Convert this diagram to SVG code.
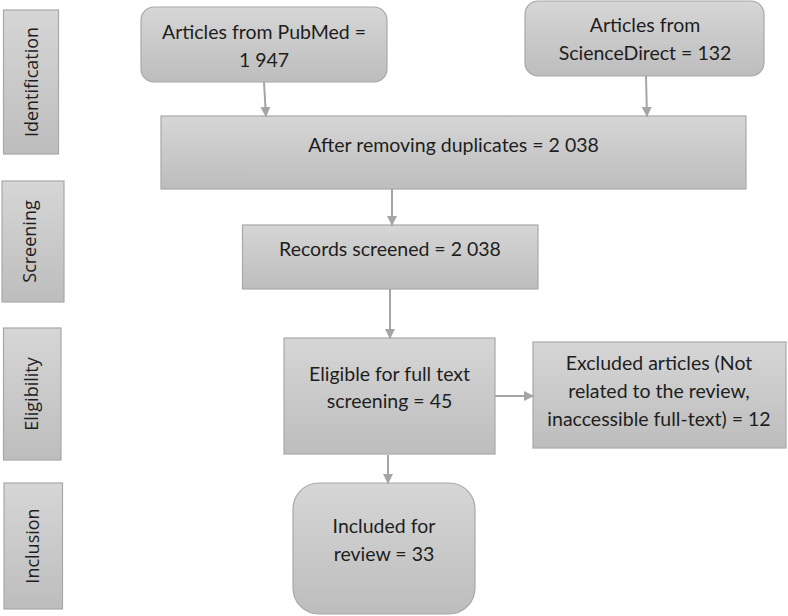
<svg xmlns="http://www.w3.org/2000/svg" width="788" height="616" viewBox="0 0 788 616">
<defs>
<linearGradient id="g" x1="0" y1="0" x2="0" y2="1">
<stop offset="0" stop-color="#d6d6d6"/>
<stop offset="1" stop-color="#bdbdbd"/>
</linearGradient>
<marker id="ah" viewBox="0 0 10 10" refX="10" refY="5" markerWidth="10" markerHeight="10" markerUnits="userSpaceOnUse" orient="auto">
<path d="M0,0 L10,5 L0,10 Z" fill="#a5a5a5"/>
</marker>
<style>
.box{fill:url(#g);stroke:#a8a8a8;stroke-width:1.2}
.t{font-family:Lato,"Liberation Sans",sans-serif;font-size:19.5px;fill:#1e1e1e;text-anchor:middle}
.s{font-family:"Open Sans","DejaVu Sans",sans-serif;font-size:18px;fill:#1e1e1e;text-anchor:middle}
.c{stroke:#a5a5a5;stroke-width:2;fill:none;marker-end:url(#ah)}
</style>
</defs>
<rect width="788" height="616" fill="#ffffff"/>
<g id="stage-identification">
<rect class="box" x="3.5" y="10" width="55" height="144"/>
<text class="s" transform="translate(38,82) rotate(-90)">Identification</text>
</g>
<g id="stage-screening">
<rect class="box" x="2" y="181" width="62" height="121"/>
<text class="s" transform="translate(36,241.5) rotate(-90)">Screening</text>
</g>
<g id="stage-eligibility">
<rect class="box" x="3.5" y="328" width="57.5" height="132"/>
<text class="s" transform="translate(38,394) rotate(-90)">Eligibility</text>
</g>
<g id="stage-inclusion">
<rect class="box" x="4" y="483" width="58.5" height="126"/>
<text class="s" transform="translate(39,546) rotate(-90)">Inclusion</text>
</g>
<g id="pubmed">
<rect class="box" x="141" y="7" width="246" height="75" rx="13"/>
<text class="t" x="264" y="39">Articles from PubMed =</text>
<text class="t" x="264" y="67">1 947</text>
</g>
<g id="sciencedirect">
<rect class="box" x="525" y="1" width="239" height="75" rx="13"/>
<text class="t" x="645" y="32">Articles from</text>
<text class="t" x="645" y="60">ScienceDirect = 132</text>
</g>
<g id="duplicates">
<rect class="box" x="161" y="116" width="585" height="73"/>
<text class="t" x="453.5" y="152">After removing duplicates = 2 038</text>
</g>
<g id="screened">
<rect class="box" x="242.5" y="225" width="295.5" height="64"/>
<text class="t" x="390" y="256">Records screened = 2 038</text>
</g>
<g id="eligible">
<rect class="box" x="284" y="338" width="211" height="116"/>
<text class="t" x="389.5" y="381">Eligible for full text</text>
<text class="t" x="389.5" y="408">screening = 45</text>
</g>
<g id="excluded">
<rect class="box" x="533" y="342" width="253" height="106"/>
<text class="t" x="659" y="370">Excluded articles (Not</text>
<text class="t" x="659" y="398">related to the review,</text>
<text class="t" x="659" y="426">inaccessible full-text) = 12</text>
</g>
<g id="included">
<rect class="box" x="293" y="483" width="182" height="131" rx="26"/>
<text class="t" x="384" y="533">Included for</text>
<text class="t" x="384" y="561">review = 33</text>
</g>
<g id="connectors">
<line class="c" x1="264" y1="82" x2="266" y2="117"/>
<line class="c" x1="646" y1="76" x2="647" y2="117"/>
<line class="c" x1="392" y1="189" x2="392" y2="226"/>
<line class="c" x1="390" y1="289" x2="390" y2="339"/>
<line class="c" x1="495" y1="396" x2="534" y2="396"/>
<line class="c" x1="388" y1="455" x2="388" y2="484"/>
</g>
</svg>
